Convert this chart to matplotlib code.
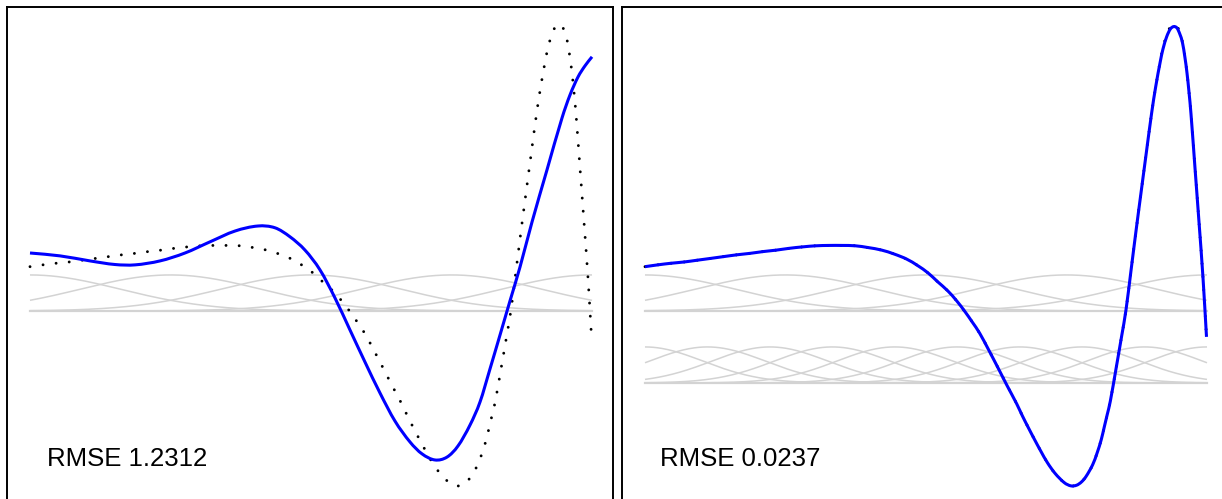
import numpy as np
import matplotlib
matplotlib.use("Agg")
import matplotlib.pyplot as plt
from matplotlib.path import Path
from matplotlib.patches import PathPatch

plt.rcParams['font.family'] = ['Liberation Sans', 'DejaVu Sans']

# ---- data (x in input units 0..562, y in response units) ----
truth_x = [0, 12.7, 26, 39, 52.3, 65.7, 78.7, 92, 105, 118.3, 131.3, 144.3, 157.7,
           171, 184, 197, 210.3, 223.3, 236.7, 249.3, 261.7, 272.7, 283.3, 292.7,
           302.7, 311.7, 320, 327.3, 334.7, 344, 353, 362, 371.7, 377.3, 383.3,
           389.3, 395.7, 402.3, 410, 419.3, 426, 431.7, 436.5, 441, 447.7, 452.3,
           456.3, 459.3, 462.3, 465.3, 471, 476.7, 481, 486, 491, 496, 501, 506.7,
           510.7, 515.3, 518, 521.7, 525.3, 528.7, 532, 535, 537.5, 540, 542, 544,
           546, 550, 554, 558, 561.5]
truth_y = [1.23, 1.28, 1.325, 1.36, 1.41, 1.46, 1.51, 1.56, 1.60, 1.65, 1.69, 1.74,
           1.78, 1.81, 1.82, 1.82, 1.81, 1.76, 1.69, 1.58, 1.44, 1.26, 1.05, 0.81,
           0.56, 0.28, -0.02, -0.31, -0.62, -1.10, -1.58, -2.07, -2.58, -2.91,
           -3.24, -3.56, -3.89, -4.21, -4.51, -4.77, -4.86, -4.84, -4.75, -4.60,
           -4.27, -3.93, -3.57, -3.22, -2.87, -2.51, -1.61, -0.69, 0.03, 1.12,
           2.22, 3.28, 4.33, 5.51, 6.23, 6.95, 7.31, 7.67, 7.89, 7.96, 7.92, 7.72,
           7.47, 7.03, 6.61, 6.08, 5.47, 3.97, 2.47, 0.92, -0.72]

fit5_x = [0, 30, 60, 85, 105, 130, 155, 180, 205, 228, 245, 260, 275, 290, 305,
          320, 335, 350, 365, 380, 392, 405, 417, 428, 440, 450, 460, 470, 480,
          490, 502, 517, 532, 540, 548, 555, 562]
fit5_y = [1.61, 1.53, 1.39, 1.29, 1.28, 1.39, 1.61, 1.92, 2.22, 2.36, 2.31, 2.06,
          1.69, 1.14, 0.36, -0.53, -1.42, -2.28, -3.06, -3.64, -3.97, -4.14,
          -4.06, -3.75, -3.17, -2.53, -1.61, -0.67, 0.28, 1.22, 2.47, 3.92, 5.36,
          6.00, 6.50, 6.81, 7.06]

fit15_x = [0, 12.7, 26, 39, 52.3, 65.7, 78.7, 92, 105, 118.3, 131.3, 144.3, 157.7,
           171, 184, 197, 210.3, 223.3, 236.7, 249.3, 261.7, 272.7, 283.3, 292.7,
           302.7, 311.7, 320, 327.3, 334.7, 344, 353, 362, 371.7, 377.3, 383.3,
           389.3, 395.7, 402.3, 410, 419.3, 426, 431.7, 436.5, 441, 447.7, 452.3,
           456.3, 459.3, 462.3, 465.3, 471, 476.7, 481, 486, 491, 496, 501, 506.7,
           510.7, 515.3, 518, 521.7, 525.3, 528.7, 532, 535, 537.5, 540, 542, 544,
           546, 550, 554, 558, 561.5]
fit15_y = [1.23, 1.28, 1.325, 1.36, 1.41, 1.46, 1.51, 1.56, 1.60, 1.65, 1.69, 1.74,
           1.78, 1.81, 1.82, 1.82, 1.81, 1.76, 1.69, 1.58, 1.44, 1.26, 1.05, 0.81,
           0.56, 0.28, -0.02, -0.31, -0.62, -1.10, -1.58, -2.07, -2.58, -2.91,
           -3.24, -3.56, -3.89, -4.21, -4.51, -4.77, -4.86, -4.84, -4.75, -4.60,
           -4.27, -3.93, -3.57, -3.22, -2.87, -2.51, -1.61, -0.69, 0.03, 1.12,
           2.22, 3.28, 4.33, 5.51, 6.23, 6.93, 7.28, 7.62, 7.83, 7.90, 7.86, 7.68,
           7.45, 7.03, 6.61, 6.08, 5.47, 3.97, 2.47, 0.92, -0.72]

centers_5 = [0, 140.5, 281, 421.5, 562]
width_5 = 90
centers_10 = [0, 62.4, 124.9, 187.3, 249.8, 312.2, 374.7, 437.1, 499.6, 562]
width_10 = 58
offset_10 = -2.0

labels = ["RMSE 1.2312", "RMSE 0.0237"]

# ---- figure ----
W, H, DPI = 1222, 499, 100
fig = plt.figure(figsize=(W / DPI, H / DPI), dpi=DPI)
XLIM = (-23, 583)
YLIM = (-5.53, 8.458)
ax_w = 606 / W
ax_b = (H - 510) / H
ax_h = 503.5 / H
axL = fig.add_axes([7 / W, ax_b, ax_w, ax_h])
axR = fig.add_axes([622 / W, ax_b, ax_w, ax_h])

grid = np.linspace(0, 562, 400)
gray = "#d3d3d3"


def smooth_path(xs, ys):
    """Cubic Bezier path through the given points (Hermite tangents)."""
    x = np.asarray(xs, float)
    y = np.asarray(ys, float)
    n = len(x)
    m = np.empty(n)
    m[1:-1] = (y[2:] - y[:-2]) / (x[2:] - x[:-2])
    m[0] = (y[1] - y[0]) / (x[1] - x[0])
    m[-1] = (y[-1] - y[-2]) / (x[-1] - x[-2])
    verts = [(x[0], y[0])]
    codes = [Path.MOVETO]
    for i in range(n - 1):
        h = x[i + 1] - x[i]
        verts += [(x[i] + h / 3, y[i] + m[i] * h / 3),
                  (x[i + 1] - h / 3, y[i + 1] - m[i + 1] * h / 3),
                  (x[i + 1], y[i + 1])]
        codes += [Path.CURVE4] * 3
    return Path(verts, codes)


def draw_curve(ax, xs, ys, **kw):
    cap = kw.pop("capstyle", "butt")
    p = PathPatch(smooth_path(xs, ys), fill=False, **kw)
    p.set_capstyle(cap)
    p.set_joinstyle("round")
    ax.add_patch(p)


def draw_basis(ax, centers, width, offset):
    for c in centers:
        ax.plot(grid, offset + np.exp(-0.5 * ((grid - c) / width) ** 2),
                color=gray, lw=1.1, solid_capstyle='butt', zorder=1)
    ax.plot([0, 562], [offset, offset], color=gray, lw=1.6, zorder=1)


for ax in (axL, axR):
    ax.set_xlim(*XLIM)
    ax.set_ylim(*YLIM)
    ax.set_xticks([])
    ax.set_yticks([])
    for s in ax.spines.values():
        s.set_linewidth(1.4)
        s.set_color("black")

draw_basis(axL, centers_5, width_5, 0.0)
draw_basis(axR, centers_5, width_5, 0.0)
draw_basis(axR, centers_10, width_10, offset_10)

for ax in (axL, axR):
    draw_curve(ax, truth_x, truth_y, edgecolor="black", lw=2.1,
               linestyle=(0, (0.01, 4.5)), capstyle="round", zorder=2)

draw_curve(axL, fit5_x, fit5_y, edgecolor="#0000ff", lw=2.2, zorder=3)
draw_curve(axR, fit15_x, fit15_y, edgecolor="#0000ff", lw=2.2, zorder=3)

axL.text(17, -4.12, labels[0], ha="left", va="center", fontsize=18.5)
axR.text(15, -4.12, labels[1], ha="left", va="center", fontsize=18.5)

fig.savefig("out.png", dpi=DPI)
